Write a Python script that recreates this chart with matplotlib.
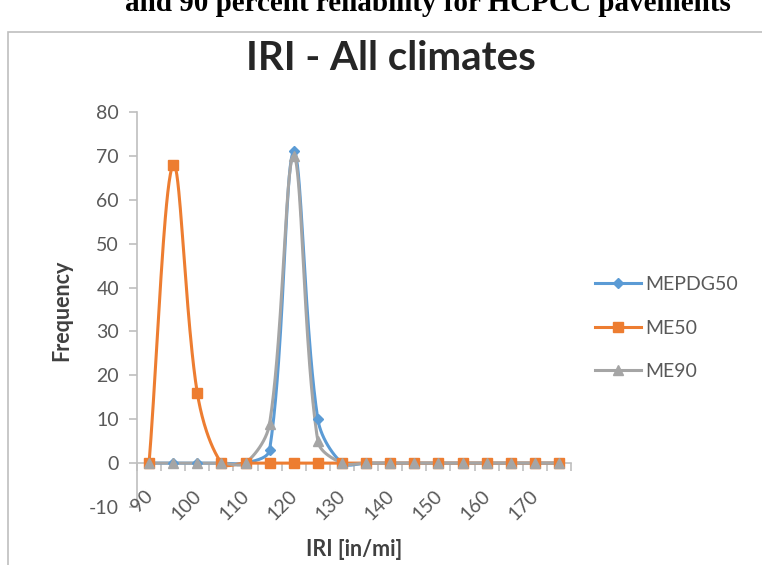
import numpy as np
import matplotlib
matplotlib.use("Agg")
import matplotlib.pyplot as plt
from matplotlib.lines import Line2D

categories = [90, 95, 100, 105, 110, 115, 120, 125, 130, 135, 140, 145, 150, 155, 160, 165, 170, 175]
mepdg50 = [0, 0, 0, 0, 0, 3, 71, 10, 0, 0, 0, 0, 0, 0, 0, 0, 0, 0]
me50 = [0, 68, 16, 0, 0, 0, 0, 0, 0, 0, 0, 0, 0, 0, 0, 0, 0, 0]
me90 = [0, 0, 0, 0, 0, 9, 70, 5, 0, 0, 0, 0, 0, 0, 0, 0, 0, 0]
series_names = ["MEPDG50", "ME50", "ME90"]
colors = ["#5B9BD5", "#ED7D31", "#A5A5A5"]
markers = ["D", "s", "^"]
msizes = [5, 7, 7]
yticks = list(range(-10, 81, 10))

plt.rcParams['font.family'] = ['Lato', 'DejaVu Sans']

# pixel scale used for the Excel-like smoothing (computed in screen space)
XPX = 24.2
YPX = 4.39


def smooth(xs, ys, n=40):
    P = np.column_stack([np.asarray(xs, float) * XPX, np.asarray(ys, float) * YPX])
    m = len(P)
    ox, oy = [], []
    t = np.linspace(0, 1, n)[:, None]
    for i in range(m - 1):
        a, b = P[i], P[i + 1]
        prev = P[i - 1] if i > 0 else a
        nxt = P[i + 2] if i + 2 < m else b
        d_ab = np.hypot(*(b - a))
        d_pa = np.hypot(*(a - prev))
        d_bn = np.hypot(*(nxt - b))
        c1 = a + (b - prev) * d_ab / (d_pa + d_ab) / 3 if d_pa + d_ab > 0 else a
        c2 = b - (nxt - a) * d_ab / (d_ab + d_bn) / 3 if d_ab + d_bn > 0 else b
        B = (1 - t) ** 3 * a + 3 * (1 - t) ** 2 * t * c1 + 3 * (1 - t) * t ** 2 * c2 + t ** 3 * b
        ox.extend(B[:, 0] / XPX); oy.extend(B[:, 1] / YPX)
    return np.array(ox), np.array(oy)


fig = plt.figure(figsize=(7.62, 5.65), dpi=100)
border = plt.Rectangle((8 / 762, -0.01), 1.0, 1 - 32 / 565 + 0.01, transform=fig.transFigure,
                       fill=False, edgecolor="#BFBFBF", linewidth=1.2)
fig.patches.append(border)
fig.text(428 / 762, 1 - 11 / 565, "and 90 percent reliability for HCPCC pavements", ha="center",
         va="baseline", fontsize=21, fontweight="bold", family=["Liberation Serif", "DejaVu Serif"])

ax = fig.add_axes([137 / 762, 1 - 507 / 565, (571 - 137) / 762, (507 - 112) / 565])
x = np.arange(len(categories))
for ys, name, c, m, ms in zip([mepdg50, me50, me90], series_names, colors, markers, msizes):
    sx, sy = smooth(x, ys)
    ax.plot(sx, sy, color=c, lw=2.2, zorder=3)
    ax.plot(x, ys, linestyle="none", marker=m, color=c, markersize=ms, zorder=4)

ax.set_xlim(-0.5, len(categories) - 0.5)
ax.set_ylim(-10, 80)
for s in ["top", "right"]:
    ax.spines[s].set_visible(False)
ax.spines["left"].set_color("#BFBFBF")
ax.spines["left"].set_linewidth(1.2)
ax.spines["bottom"].set_position(("data", 0))
ax.spines["bottom"].set_color("#BFBFBF")
ax.spines["bottom"].set_linewidth(1.2)
ax.set_xticks(np.arange(-0.5, len(categories), 1))
ax.set_xticklabels([])
ax.tick_params(axis="x", direction="out", length=6, color="#BFBFBF", width=1.2)
ax.set_yticks(yticks)
ax.set_yticklabels([str(v) for v in yticks])
ax.tick_params(axis="y", direction="out", length=6, color="#BFBFBF", width=1.2,
               labelsize=14, labelcolor="#595959", pad=7)

for i, c in enumerate(categories):
    if i % 2 == 0:
        ax.annotate(str(c), xy=(i, 0), xycoords=("data", "axes fraction"),
                    xytext=(7, 20), textcoords="offset pixels", ha="right", va="top",
                    rotation=45, fontsize=14, color="#595959")

fig.text(354 / 762, 1 - 550 / 565, "IRI [in/mi]", ha="center", va="center",
         fontsize=15.5, fontweight="bold", color="#404040")
fig.text(62 / 762, 1 - 310 / 565, "Frequency", ha="center", va="center", rotation=90,
         fontsize=15.5, fontweight="bold", color="#404040")
fig.text(391 / 762, 1 - 58 / 565, "IRI - All climates", ha="center", va="center",
         fontsize=29, fontweight="bold", color="#262626")

handles = [Line2D([0], [0], color=c, lw=2.2, marker=m, markersize=ms) for c, m, ms in zip(colors, markers, msizes)]
fig.legend(handles, series_names, loc="center left", bbox_to_anchor=(577 / 762, 1 - 328 / 565),
           frameon=False, fontsize=14, labelspacing=1.35, handlelength=2.4, handletextpad=0.2,
           labelcolor="#595959")

fig.savefig("out.png", dpi=100)
